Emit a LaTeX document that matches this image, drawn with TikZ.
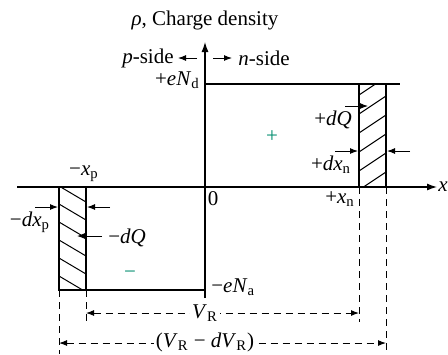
\documentclass[tikz,border=0pt]{standalone}
\usepackage{fontspec}
\setmainfont{Liberation Serif}
\usetikzlibrary{arrows.meta}
\definecolor{chargegreen}{RGB}{0,140,110}

\begin{document}
\begin{tikzpicture}[x=0.5pt,y=-0.5pt,
  axis/.style={line width=0.6pt, -{Latex[length=5pt,width=3.5pt]}},
  edge/.style={line width=0.6pt},
  guide/.style={line width=0.5pt, dash pattern=on 3.5pt off 2.5pt},
  dim/.style={guide, {Latex[length=4pt,width=3pt]}-{Latex[length=4pt,width=3pt]}},
  pointer/.style={line width=0.5pt, -{Latex[length=4pt,width=3pt]}},
  lbl/.style={inner sep=1pt, font=\fontsize{10.5}{12}\selectfont},
  sign/.style={lbl, text=chargegreen}
]
\useasboundingbox (0,0) rectangle (448,354);

% axes
\coordinate (o) at (205,187);
\coordinate (ytop) at (205,42);
\coordinate (ybot) at (205,298);
\coordinate (xleft) at (17,187);
\coordinate (xright) at (437,187);
\draw[edge] (ybot) -- (o);
\draw[axis] (o) -- (ytop);
\draw[axis] (xleft) -- (xright);
\node[lbl, anchor=west, inner sep=0pt] (xlab) at (438,187) {\textit{x}};
\node[lbl, anchor=base] (rho) at (205,25) {\textit{ρ}, Charge density};

% side markers
\coordinate (pa) at (197,58);
\coordinate (pb) at (178,58);
\coordinate (na) at (213,58);
\coordinate (nb) at (232,58);
\draw[pointer] (pa) -- (pb);
\draw[pointer] (na) -- (nb);
\node[lbl, anchor=east] (pside) at (176,58) {\textit{p}-side};
\node[lbl, anchor=west] (nside) at (236,58) {\textit{n}-side};

% n-side charge block
\coordinate (nd) at (205,84);
\coordinate (ndend) at (400,84);
\draw[edge] (nd) -- (ndend);
\node[lbl, anchor=base east] (eNd) at (202,85) {+\textit{eN}\textsubscript{d}};
\begin{scope}
  \clip (359,84) rectangle (386,187);
  \foreach \y in {95,114,...,215}
    \draw[line width=0.5pt] (359,\y) -- (386,\y-18);
\end{scope}
\draw[edge] (359,84) rectangle (386,187);

% p-side charge block
\coordinate (na0) at (59,290);
\coordinate (naend) at (205,290);
\draw[edge] (na0) -- (naend);
\draw[edge] (59,187) -- (na0);
\node[lbl, anchor=base west] (eNa) at (209,292) {−\textit{eN}\textsubscript{a}};
\begin{scope}
  \clip (59,187) rectangle (86,290);
  \foreach \y in {168,186,...,295}
    \draw[line width=0.5pt] (59,\y) -- (86,\y+16);
\end{scope}
\draw[edge] (59,187) rectangle (86,290);

% labels on the axis
\node[lbl] (zero) at (213,199) {0};
\node[lbl, anchor=base] (xp) at (84,175) {−\textit{x}\textsubscript{p}};
\node[lbl, anchor=base] (xn) at (340,203) {+\textit{x}\textsubscript{n}};
\node[sign] (plus) at (272,137) {+};
\node[sign] (minus) at (130,275) {−};

% increments
\coordinate (dxpl) at (35,207);
\coordinate (dxpr) at (110,207);
\draw[pointer] (dxpl) -- (58,207);
\draw[pointer] (dxpr) -- (87,207);
\node[lbl, anchor=base] (dxp) at (30,226) {−\textit{dx}\textsubscript{p}};
\coordinate (dqp) at (102,236);
\draw[pointer] (dqp) -- (77,236);
\node[lbl, anchor=west] (dQp) at (106,238) {−\textit{dQ}};

\coordinate (dqn) at (345,106);
\draw[pointer] (dqn) -- (368,106);
\node[lbl, anchor=base] (dQn) at (333,125) {+\textit{dQ}};
\coordinate (dxnl) at (335,151);
\coordinate (dxnr) at (410,151);
\draw[pointer] (dxnl) -- (358,151);
\draw[pointer] (dxnr) -- (387,151);
\node[lbl, anchor=base] (dxn) at (331,170) {+\textit{dx}\textsubscript{n}};

% voltage extents
\draw[guide] (86,290) -- (86,322);
\draw[guide] (59,290) -- (59,354);
\draw[guide] (359,187) -- (359,322);
\draw[guide] (386,187) -- (386,354);
\coordinate (vra) at (86,313);
\coordinate (vrb) at (359,313);
\coordinate (dva) at (59,343);
\coordinate (dvb) at (386,343);
\draw[dim] (vra) -- (vrb);
\draw[dim] (dva) -- (dvb);
\node[lbl, fill=white] (vr) at (205,313) {\textit{V}\textsubscript{R}};
\node[lbl, fill=white, inner ysep=0pt] (dvr) at (205,342) {(\textit{V}\textsubscript{R} − \textit{dV}\textsubscript{R})};
\end{tikzpicture}
\end{document}
